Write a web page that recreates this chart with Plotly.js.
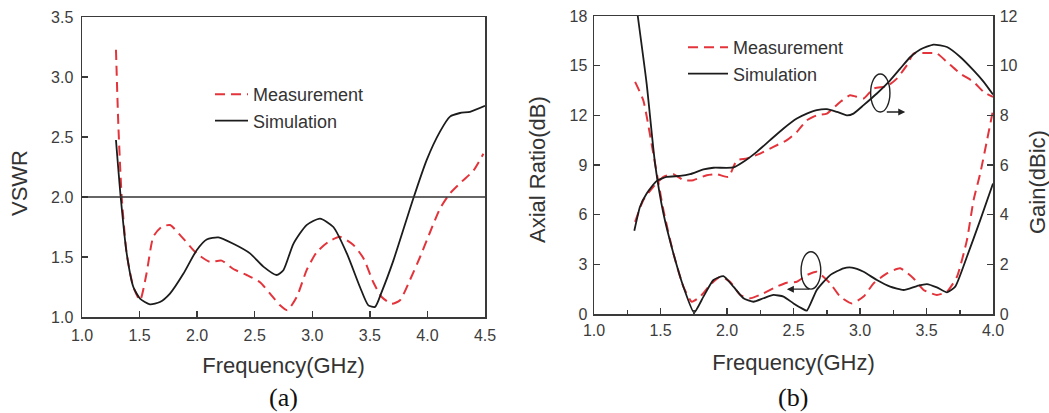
<!DOCTYPE html>
<html>
<head>
<meta charset="utf-8">
<script src="https://cdn.plot.ly/plotly-3.0.1.min.js"></script>
<style>html,body{margin:0;padding:0;background:#fff;}#chart{width:1049px;height:413px;}</style>
</head>
<body>
<div id="chart"></div>
<script>
// ---------- (a) VSWR ----------
const vswrSimFreq = [1.295,1.336,1.388,1.446,1.504,1.59,1.677,1.764,1.88,1.996,2.083,2.184,2.314,2.459,2.575,2.69,2.749,2.836,2.95,3.067,3.183,3.3,3.414,3.487,3.545,3.603,3.704,3.878,3.994,4.109,4.196,4.283,4.37,4.5];
const vswrSim     = [2.475,2.0,1.53,1.25,1.153,1.106,1.125,1.195,1.36,1.557,1.646,1.663,1.61,1.53,1.42,1.35,1.39,1.61,1.766,1.82,1.75,1.53,1.25,1.097,1.084,1.21,1.47,1.99,2.31,2.545,2.67,2.70,2.71,2.76];
const vswrMeasFreq = [1.295,1.316,1.345,1.388,1.446,1.504,1.56,1.62,1.69,1.764,1.866,1.996,2.11,2.213,2.314,2.43,2.546,2.633,2.72,2.783,2.865,2.951,3.038,3.14,3.24,3.357,3.444,3.53,3.603,3.69,3.762,3.849,3.936,4.02,4.11,4.196,4.3,4.40,4.486];
const vswrMeas     = [3.227,2.59,2.0,1.53,1.25,1.14,1.36,1.67,1.75,1.766,1.668,1.53,1.46,1.47,1.40,1.35,1.29,1.195,1.097,1.056,1.167,1.39,1.54,1.626,1.668,1.6,1.49,1.29,1.167,1.11,1.14,1.31,1.50,1.70,1.905,2.03,2.13,2.22,2.36];
const vswrLimit = 2.0;

// ---------- (b) Axial ratio & Gain ----------
const arSimFreq = [1.329,1.396,1.459,1.522,1.597,1.672,1.752,1.823,1.898,1.973,2.048,2.124,2.199,2.274,2.349,2.425,2.5,2.563,2.6,2.675,2.776,2.876,2.939,3.027,3.127,3.227,3.328,3.428,3.503,3.578,3.654,3.716,3.804,3.904,4.0];
const arSim     = [18.0,13.9,9.09,6.07,3.66,1.65,0.08,1.05,2.05,2.29,1.65,0.95,0.74,0.95,1.15,1.05,0.64,0.34,0.2,1.45,2.35,2.76,2.80,2.55,2.05,1.65,1.45,1.69,1.81,1.61,1.31,1.65,3.46,5.67,7.88];
const arMeasFreq = [1.309,1.371,1.446,1.522,1.597,1.672,1.735,1.798,1.873,1.948,2.023,2.099,2.174,2.274,2.374,2.45,2.525,2.6,2.675,2.776,2.851,2.939,3.027,3.102,3.202,3.302,3.403,3.478,3.578,3.654,3.729,3.804,3.854,3.904,3.955,4.0];
const arMeas     = [14.02,12.9,9.69,6.27,3.66,1.65,0.74,1.05,1.75,2.25,1.95,1.15,0.95,1.25,1.65,1.89,1.95,2.35,2.55,1.85,1.05,0.64,1.05,1.85,2.45,2.76,2.15,1.45,1.15,1.35,2.25,4.46,6.88,8.49,10.5,12.31];
const gainSimFreq = [1.303,1.346,1.396,1.472,1.547,1.647,1.722,1.823,1.898,2.048,2.124,2.224,2.324,2.425,2.525,2.6,2.675,2.751,2.826,2.901,2.951,3.027,3.127,3.227,3.302,3.378,3.453,3.553,3.654,3.754,3.854,3.93,4.0];
const gainSim     = [3.35,4.32,4.85,5.36,5.52,5.56,5.63,5.82,5.89,5.9,6.13,6.53,7.0,7.47,7.87,8.07,8.21,8.25,8.14,8.0,8.07,8.41,8.88,9.41,9.88,10.35,10.65,10.85,10.75,10.35,9.81,9.35,8.84];
const gainMeasFreq = [1.309,1.371,1.446,1.522,1.597,1.672,1.747,1.848,1.923,2.011,2.074,2.149,2.249,2.349,2.45,2.525,2.6,2.675,2.751,2.851,2.926,3.027,3.102,3.202,3.277,3.353,3.403,3.478,3.578,3.654,3.754,3.854,3.93,4.0];
const gainMeas     = [3.71,4.59,5.12,5.52,5.63,5.39,5.39,5.59,5.63,5.52,6.19,6.26,6.46,6.73,7.0,7.33,7.8,8.0,8.07,8.54,8.81,8.68,9.08,9.17,9.48,10.02,10.49,10.51,10.49,10.15,9.68,9.35,8.94,8.74];

const seriesNames = ["Measurement", "Simulation"];
const panelLabels = ["(a)", "(b)"];
const xTitle = "Frequency(GHz)";
const yTitles = ["VSWR", "Axial Ratio(dB)", "Gain(dBic)"];

const RED = "#e3343b", BLACK = "#1c1c1c", AXC = "#3a3a3a";
const W = 1049, H = 413;
const px = v => v / W, py = v => 1 - v / H;
const SANS = "Liberation Sans, Arial, sans-serif";
const tickFont = {family: SANS, size: 16, color: "#3c3c3c"};
const titleFont = {family: SANS, size: 22, color: "#333"};
const legendFont = {family: SANS, size: 18, color: "#333"};
const dashRed = {color: RED, width: 2, dash: "10px,6px"};
const solidBlack = {color: BLACK, width: 1.8};

const traces = [
  {x: vswrMeasFreq, y: vswrMeas, xaxis: "x", yaxis: "y", name: seriesNames[0], mode: "lines", line: Object.assign({shape: "spline", smoothing: 0.6}, dashRed), legend: "legend"},
  {x: vswrSimFreq, y: vswrSim, xaxis: "x", yaxis: "y", name: seriesNames[1], mode: "lines", line: Object.assign({shape: "spline", smoothing: 0.6}, solidBlack), legend: "legend"},
  {x: arMeasFreq, y: arMeas, xaxis: "x2", yaxis: "y2", name: seriesNames[0], mode: "lines", line: Object.assign({shape: "spline", smoothing: 0.5}, dashRed), legend: "legend2"},
  {x: arSimFreq, y: arSim, xaxis: "x2", yaxis: "y2", name: seriesNames[1], mode: "lines", line: Object.assign({shape: "spline", smoothing: 0.5}, solidBlack), legend: "legend2"},
  {x: gainMeasFreq, y: gainMeas, xaxis: "x2", yaxis: "y3", name: seriesNames[0], mode: "lines", line: Object.assign({shape: "spline", smoothing: 0.5}, dashRed), showlegend: false},
  {x: gainSimFreq, y: gainSim, xaxis: "x2", yaxis: "y3", name: seriesNames[1], mode: "lines", line: Object.assign({shape: "spline", smoothing: 0.5}, solidBlack), showlegend: false}
];

const axisBase = {
  showgrid: false, zeroline: false, showline: true, linecolor: AXC, linewidth: 1.5,
  ticks: "inside", ticklen: 6, tickwidth: 1.5, tickcolor: AXC, tickfont: tickFont,
  fixedrange: true, automargin: false
};

const layout = {
  width: W, height: H,
  margin: {l: 0, r: 0, t: 0, b: 0},
  paper_bgcolor: "#fff", plot_bgcolor: "#fff",
  xaxis: Object.assign({}, axisBase, {domain: [px(82), px(485)], range: [1, 4.5], dtick: 0.5, tick0: 1, tickformat: ".1f", mirror: true, anchor: "y", ticklabelstandoff: 3,
    title: {text: xTitle, font: titleFont, standoff: 15}}),
  yaxis: Object.assign({}, axisBase, {domain: [py(317), py(17)], range: [1, 3.5], dtick: 0.5, tick0: 1, tickformat: ".1f", mirror: true, anchor: "x", ticklabelstandoff: 4}),
  xaxis2: Object.assign({}, axisBase, {domain: [px(594), px(993)], range: [1, 4], dtick: 0.5, tick0: 1, tickformat: ".1f", mirror: true, anchor: "y2", ticklabelstandoff: 1,
    minor: {dtick: 0.25, ticks: "inside", ticklen: 4, tickcolor: AXC},
    title: {text: xTitle, font: titleFont, standoff: 17}}),
  yaxis2: Object.assign({}, axisBase, {domain: [py(314), py(16)], range: [0, 18], dtick: 3, tick0: 0, mirror: true, anchor: "x2", ticklabelstandoff: 2}),
  yaxis3: Object.assign({}, axisBase, {domain: [py(314), py(16)], range: [0, 12], dtick: 2, tick0: 0, overlaying: "y2", side: "right", anchor: "x2", ticklabelstandoff: 2}),
  legend: {x: px(210), y: py(76), xanchor: "left", yanchor: "top", bgcolor: "rgba(0,0,0,0)", font: legendFont, tracegroupgap: 0, itemwidth: 33},
  legend2: {x: px(683), y: py(29), xanchor: "left", yanchor: "top", bgcolor: "rgba(0,0,0,0)", font: legendFont, tracegroupgap: 0, itemwidth: 40},
  shapes: [
    {type: "line", xref: "x domain", yref: "y", x0: 0, x1: 1, y0: vswrLimit, y1: vswrLimit, line: {color: "#333", width: 1.3}},
    {type: "circle", xref: "x2", yref: "y2", x0: 3.08, x1: 3.225, y0: 12.2, y1: 14.5, line: {color: "#222", width: 1.4}},
    {type: "circle", xref: "x2", yref: "y2", x0: 2.557, x1: 2.705, y0: 1.5, y1: 3.76, line: {color: "#222", width: 1.4}}
  ],
  annotations: [
    {xref: "paper", yref: "paper", x: px(20), y: py(183), text: yTitles[0], textangle: -90, showarrow: false, font: titleFont, xanchor: "center", yanchor: "middle"},
    {xref: "paper", yref: "paper", x: px(537), y: py(170), text: yTitles[1], textangle: -90, showarrow: false, font: titleFont, xanchor: "center", yanchor: "middle"},
    {xref: "paper", yref: "paper", x: px(1038), y: py(182), text: yTitles[2], textangle: -90, showarrow: false, font: titleFont, xanchor: "center", yanchor: "middle"},
    {xref: "paper", yref: "paper", x: px(283), y: py(397), text: panelLabels[0], showarrow: false, font: {family: "Liberation Serif, Times New Roman, serif", size: 26, color: "#111"}, xanchor: "center", yanchor: "middle"},
    {xref: "paper", yref: "paper", x: px(793), y: py(397), text: panelLabels[1], showarrow: false, font: {family: "Liberation Serif, Times New Roman, serif", size: 26, color: "#111"}, xanchor: "center", yanchor: "middle"},
    {xref: "x2", yref: "y2", x: 3.34, y: 12.2, axref: "x2", ayref: "y2", ax: 3.19, ay: 12.2, text: "", showarrow: true, arrowhead: 2, arrowsize: 1, arrowwidth: 1.4, arrowcolor: "#222"},
    {xref: "x2", yref: "y2", x: 2.45, y: 1.5, axref: "x2", ayref: "y2", ax: 2.63, ay: 1.5, text: "", showarrow: true, arrowhead: 2, arrowsize: 1, arrowwidth: 1.4, arrowcolor: "#222"}
  ],
  showlegend: true
};

Plotly.newPlot("chart", traces, layout, {displayModeBar: false, staticPlot: true});
</script>
</body>
</html>
